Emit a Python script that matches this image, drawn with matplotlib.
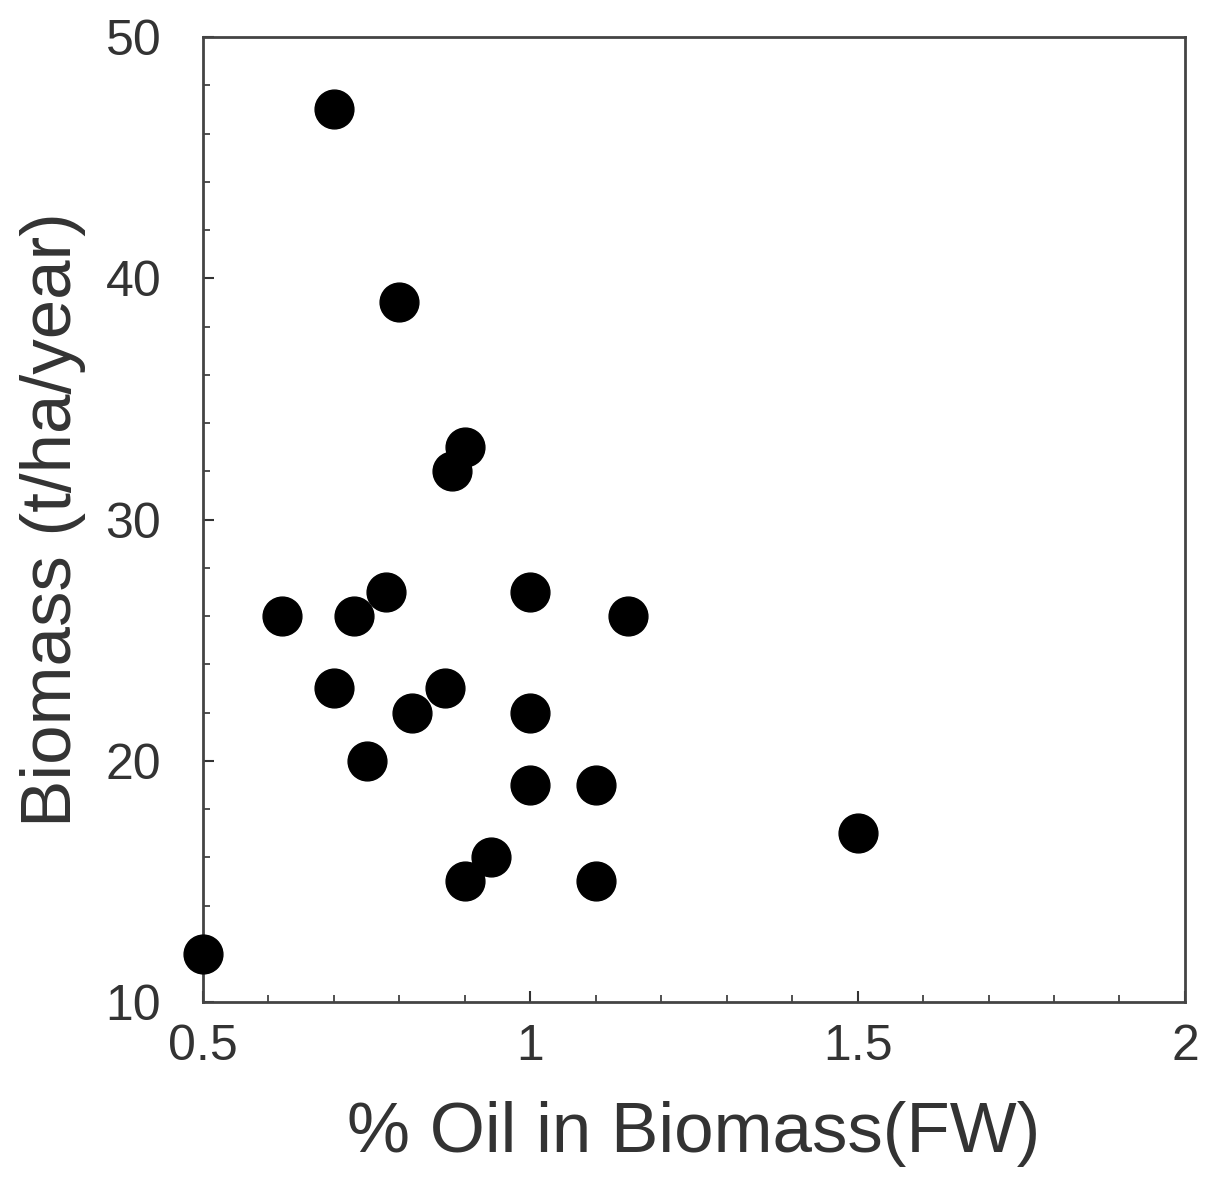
import matplotlib
matplotlib.use("Agg")
import matplotlib.pyplot as plt
from matplotlib.ticker import MultipleLocator

oil = [0.7, 0.8, 0.9, 0.88, 0.62, 0.73, 0.78, 1.0, 1.15, 0.7, 0.87, 0.82, 1.0,
       0.75, 1.0, 1.1, 1.5, 0.94, 0.9, 1.1, 0.5]
biomass = [47, 39, 33, 32, 26, 26, 27, 27, 26, 23, 23, 22, 22,
           20, 19, 19, 17, 16, 15, 15, 12]

plt.rcParams['font.family'] = ['Liberation Sans', 'DejaVu Sans']

fig = plt.figure(figsize=(12.11, 11.80), dpi=100)
ax = fig.add_axes([0.1676, 0.1508, 0.8109, 0.8178])
ax.scatter(oil, biomass, s=780, color='black', zorder=3, clip_on=False)
ax.set_xlim(0.5, 2)
ax.set_ylim(10, 50)
ax.set_xticks([0.5, 1, 1.5, 2])
ax.set_xticklabels(['0.5', '1', '1.5', '2'])
ax.set_yticks([10, 20, 30, 40, 50])
ax.xaxis.set_minor_locator(MultipleLocator(0.1))
ax.yaxis.set_minor_locator(MultipleLocator(2))
ax.tick_params(which='both', direction='in', colors='#333333', labelcolor='#333333')
ax.tick_params(which='major', length=8, width=1.5, labelsize=36)
ax.tick_params(which='minor', length=5, width=1.2)
ax.tick_params(axis='x', which='major', pad=16)
ax.tick_params(axis='y', which='major', pad=30)
for s in ax.spines.values():
    s.set_linewidth(2)
    s.set_color('#444444')
ax.set_xlabel('% Oil in Biomass(FW)', fontsize=51, color='#333333', labelpad=22)
ax.set_ylabel('Biomass (t/ha/year)', fontsize=51, color='#333333', labelpad=14)
fig.savefig('out.png', dpi=100, facecolor='white')
